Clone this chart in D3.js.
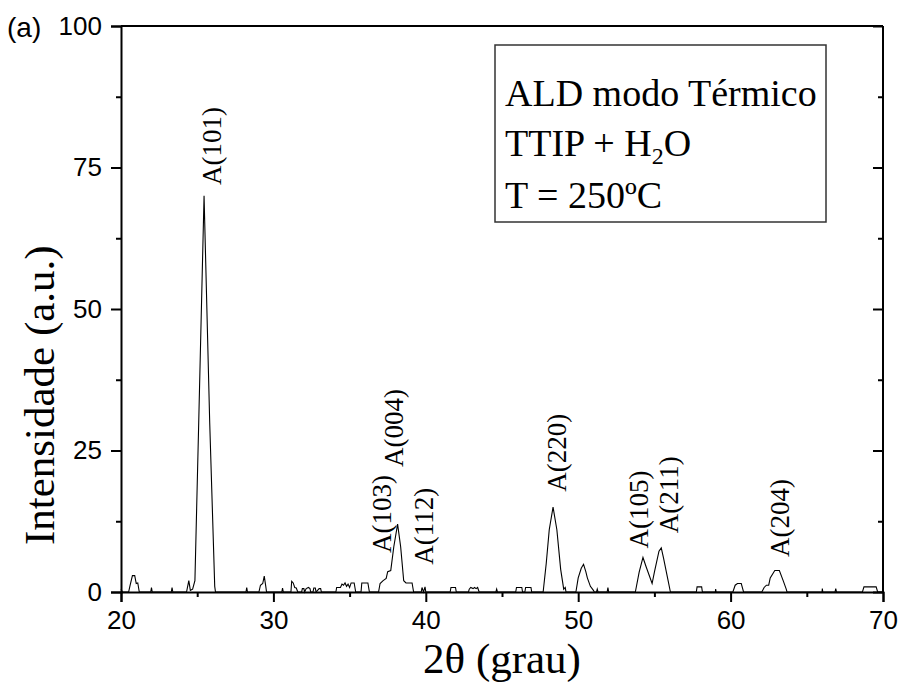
<!DOCTYPE html>
<html><head><meta charset="utf-8">
<script src="https://cdn.jsdelivr.net/npm/d3@7"></script>
<style>
html,body{margin:0;padding:0;background:#fff;}
svg{display:block;}
</style></head>
<body>
<svg id="chart" width="901" height="684"></svg>
<script>
// ---- data ----
const twoTheta = [20.0,20.1,20.5,20.6,20.75,20.9,21.0,21.1,21.2,21.95,22.0,22.05,23.3,23.35,23.4,24.3,24.45,24.55,24.7,24.85,25.1,25.45,25.82,26.15,26.2,28.2,28.25,28.3,29.05,29.15,29.3,29.4,29.5,29.55,30.55,30.6,30.65,31.15,31.2,31.3,31.4,31.5,31.6,31.85,31.9,32.0,32.05,32.15,32.3,32.4,32.45,32.6,32.65,32.75,32.8,33.0,33.1,33.15,34.1,34.15,34.4,34.5,34.6,34.7,34.8,34.9,35.0,35.1,35.3,35.4,35.75,35.8,36.2,36.3,36.9,37.0,37.2,37.4,37.5,37.7,37.9,38.15,38.35,38.55,38.7,39.1,39.2,39.7,39.75,39.85,39.95,40.0,41.6,41.65,41.95,42.0,42.8,42.85,42.95,43.1,43.2,43.3,43.4,43.5,44.6,44.65,44.7,45.9,45.95,46.3,46.35,46.5,46.55,46.9,46.95,47.7,47.9,48.1,48.35,48.6,48.85,49.05,49.15,49.2,49.85,50.0,50.2,50.35,50.5,50.6,50.8,51.0,51.05,51.2,51.25,51.3,51.9,51.95,52.0,53.75,54.0,54.25,54.45,54.85,55.0,55.3,55.45,55.6,55.9,56.05,57.75,57.8,58.1,58.15,59.0,59.02,59.05,60.15,60.3,60.45,60.7,60.8,60.85,62.05,62.2,62.35,62.5,62.6,62.9,63.2,63.45,63.65,63.7,66.0,66.02,66.05,66.85,66.9,66.95,68.65,68.75,69.55,69.65,70.0];
const intensity = [0.5,0,0,1.2,2.9,2.9,1.5,1.6,0,0,0.8,0,0,0.8,0,0,2.0,0.3,0.5,2,30,70,30,1,0,0,0.8,0,0,1.2,1.5,2.8,1.0,0,0,0.7,0,0,1.9,1.6,0.8,0.7,0,0,0.6,0.6,0,0.6,0.8,0.6,0,0,0.7,0.7,0,0.6,0.6,0,0,0.8,0.8,1.4,1.2,1.6,1.0,1.4,0.8,1.6,1.6,0,0,1.6,1.6,0,0,1.5,2.0,2.4,3.6,3.8,8,12,8,2,1.6,1.6,0,0,0.8,0,0.9,0,0,0.8,0.8,0,0,0.5,0.8,0.6,0.8,0.6,0.8,0,0,0.5,0,0,0.8,0.8,0,0,0.8,0.8,0,0,5,11,15,11,4,0.5,0.8,0,0,2.5,4.2,4.9,3.6,2.5,1.0,0.3,0,0,0.5,0,0,0.8,0,0,3.5,6.1,4.5,1.5,3.5,7.2,7.8,6,2,0,0,0.9,0.9,0,0,0.5,0,0,1.2,1.5,1.5,0.5,0,0,0.8,1.2,1.2,2.5,3.8,3.8,2.0,0.5,0,0,0.6,0,0,0.6,0,0,0.9,0.9,0,0];

const peakLabels = ["A(101)","A(103)","A(004)","A(112)","A(220)","A(105)","A(211)","A(204)"];
const peakLabelX = [25.95,37.1,37.93,39.9,48.6,54.0,55.96,63.24];
const peakLabelY = [71.9,6.9,22.1,4.8,17.7,7.7,10.4,6.2];

const xTicks = [20,30,40,50,60,70];
const yTicks = [0,25,50,75,100];
const legendLines = ["ALD modo Térmico","TTIP + H2O","T = 250ºC"];

// ---- layout ----
const W = 901, H = 684;
const m = {left:121, top:26, right:18, bottom:92};
const iw = W - m.left - m.right, ih = H - m.top - m.bottom;
const svg = d3.select("#chart");
const g = svg.append("g").attr("transform",`translate(${m.left},${m.top})`);

const x = d3.scaleLinear().domain([20,70]).range([0,iw]);
const y = d3.scaleLinear().domain([0,100]).range([ih,0]);

const serif = "'Times New Roman','Liberation Serif',serif";
const sans = "Arial,'Liberation Sans',sans-serif";

// data line
const pts = twoTheta.map((d,i)=>[d,intensity[i]]);
g.append("path").datum(pts)
  .attr("fill","none").attr("stroke","#000").attr("stroke-width",1.1)
  .attr("d", d3.line().x(d=>x(d[0])).y(d=>y(d[1])));

const xMinor = d3.range(25,70,10);
const yMinor = d3.range(12.5,100,25);

// bottom axis
g.append("g").attr("transform",`translate(0,${ih})`)
  .call(d3.axisBottom(x).tickValues(xTicks).tickSize(10).tickPadding(9).tickFormat(d3.format("d")));
g.append("g").attr("transform",`translate(0,${ih})`)
  .call(d3.axisBottom(x).tickValues(xMinor).tickSize(5).tickFormat(""))
  .call(a=>a.select(".domain").remove());
// left axis
g.append("g")
  .call(d3.axisLeft(y).tickValues(yTicks).tickSize(10).tickPadding(9).tickFormat(d3.format("d")));
g.append("g")
  .call(d3.axisLeft(y).tickValues(yMinor).tickSize(5).tickFormat(""))
  .call(a=>a.select(".domain").remove());
// right axis (inward ticks)
g.append("g").attr("transform",`translate(${iw},0)`)
  .call(d3.axisLeft(y).tickValues(yTicks).tickSize(10).tickFormat(""))
  .call(a=>a.select(".domain").remove());
g.append("g").attr("transform",`translate(${iw},0)`)
  .call(d3.axisLeft(y).tickValues(yMinor).tickSize(5).tickFormat(""))
  .call(a=>a.select(".domain").remove());
// top & right lines
g.append("line").attr("x1",0).attr("x2",iw).attr("y1",0).attr("y2",0).attr("stroke","#000").attr("stroke-width",2);
g.append("line").attr("x1",iw).attr("x2",iw).attr("y1",0).attr("y2",ih).attr("stroke","#000").attr("stroke-width",2);

g.selectAll(".domain").attr("stroke","#000").attr("stroke-width",2);
g.selectAll(".tick line").attr("stroke","#000").attr("stroke-width",2);
g.selectAll(".tick text").attr("font-family",sans).attr("font-size",26).attr("fill","#000");

// axis titles
svg.append("text").attr("x", m.left + iw/2).attr("y", 673)
  .attr("text-anchor","middle").attr("font-family",serif).attr("font-size",43)
  .text("2θ (grau)");
svg.append("text").attr("transform",`translate(54,545) rotate(-90)`)
  .attr("text-anchor","start").attr("font-family",serif).attr("font-size",43)
  .text("Intensidade (a.u.)");
svg.append("text").attr("x",7).attr("y",37).attr("font-family",sans).attr("font-size",28).text("(a)");

// peak labels
peakLabels.forEach((t,i)=>{
  g.append("text")
    .attr("transform",`translate(${x(peakLabelX[i])+9},${y(peakLabelY[i])}) rotate(-90)`)
    .attr("font-family",serif).attr("font-size",27).attr("fill","#000")
    .text(t);
});

// legend box
const lg = svg.append("g");
lg.append("rect").attr("x",495).attr("y",45).attr("width",331).attr("height",177)
  .attr("fill","#fff").attr("stroke","#333").attr("stroke-width",1.5);
const lx = 505, lys = [106,156,208];
lg.append("text").attr("x",lx).attr("y",lys[0]).attr("font-family",serif).attr("font-size",38).text(legendLines[0]);
const t2 = lg.append("text").attr("x",lx).attr("y",lys[1]).attr("font-family",serif).attr("font-size",38);
t2.append("tspan").text("TTIP + H");
t2.append("tspan").attr("font-size",24).attr("dy",8).text("2");
t2.append("tspan").attr("dy",-8).text("O");
lg.append("text").attr("x",lx).attr("y",lys[2]).attr("font-family",serif).attr("font-size",38).text(legendLines[2]);
</script>
</body></html>
